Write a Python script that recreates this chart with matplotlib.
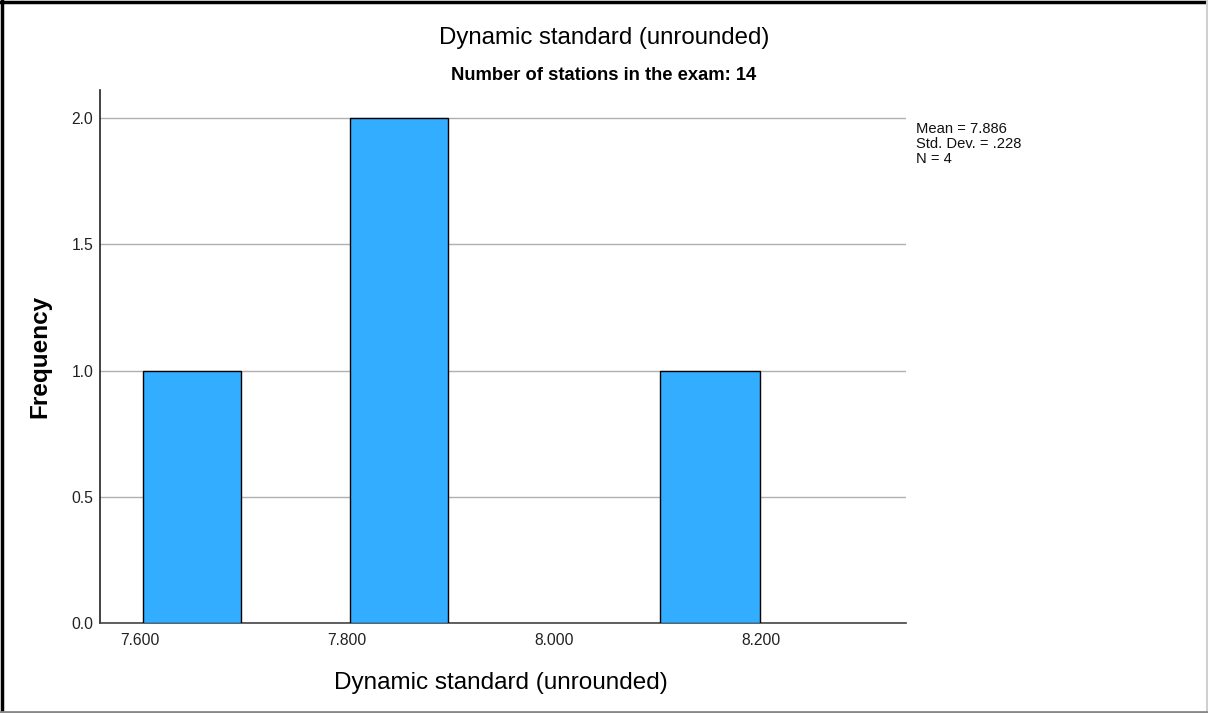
import matplotlib.pyplot as plt
from matplotlib.lines import Line2D

# histogram bins (left edge, right edge, count)
bin_left = [7.603, 7.803, 8.102]
bin_right = [7.698, 7.898, 8.199]
counts = [1, 2, 1]

x_ticks = [7.6, 7.8, 8.0, 8.2]
x_tick_labels = ["7.600", "7.800", "8.000", "8.200"]
y_ticks = [0.0, 0.5, 1.0, 1.5, 2.0]

stats_lines = ["Mean = 7.886", "Std. Dev. = .228", "N = 4"]

title = "Dynamic standard (unrounded)"
subtitle = "Number of stations in the exam: 14"
x_label = "Dynamic standard (unrounded)"
y_label = "Frequency"

plt.rcParams['font.family'] = ['Liberation Sans', 'DejaVu Sans']

fig = plt.figure(figsize=(12.08, 7.13), dpi=100)
ax = fig.add_axes([0.0824, 0.1262, 0.6676, 0.7476])

widths = [r - l for l, r in zip(bin_left, bin_right)]
ax.bar(bin_left, counts, width=widths, align='edge', color='#32adff',
       edgecolor='black', linewidth=1.0, zorder=3)

ax.set_xlim(7.561, 8.340)
ax.set_ylim(0, 2.111)
ax.set_xticks(x_ticks)
ax.set_xticklabels(x_tick_labels)
ax.set_yticks(y_ticks)
ax.set_yticklabels(["%.1f" % v for v in y_ticks])
ax.tick_params(length=0, labelsize=11.3, labelcolor='#222222')
ax.tick_params(axis='x', pad=7)
ax.tick_params(axis='y', pad=4.5)

ax.yaxis.grid(True, color='#b0b0b0', linewidth=1.0, zorder=0)
ax.set_axisbelow(True)
for side in ['top', 'right']:
    ax.spines[side].set_visible(False)
ax.spines['left'].set_color('#222222')
ax.spines['bottom'].set_color('#444444')
ax.spines['left'].set_linewidth(1.2)
ax.spines['bottom'].set_linewidth(1.2)

fig.text(0.5, 1 - 38 / 713, title, ha='center', va='center', fontsize=17.3)
fig.text(0.5, 1 - 75 / 713, subtitle, ha='center', va='center', fontsize=13.2,
         fontweight='bold')
fig.text(501 / 1208, 1 - 683 / 713, x_label, ha='center', va='center',
         fontsize=17.5)
fig.text(40 / 1208, 1 - 356 / 713, y_label, ha='center', va='center',
         fontsize=17.5, fontweight='bold', rotation=90)

for i, line in enumerate(stats_lines):
    fig.text(916 / 1208, 1 - (129 + 15 * i) / 713, line, ha='left',
             va='center', fontsize=10.6, color='#111111')

# outer frame
fig.add_artist(Line2D([0.002, 0.002], [0, 0.998], color='black', lw=2.5,
                      transform=fig.transFigure))
fig.add_artist(Line2D([0, 1], [0.997, 0.997], color='black', lw=2.5,
                      transform=fig.transFigure))
fig.add_artist(Line2D([0.9992, 0.9992], [0, 1], color='#d0d0d0', lw=1.5,
                      transform=fig.transFigure))
fig.add_artist(Line2D([0, 1], [0.002, 0.002], color='#888888', lw=2,
                      transform=fig.transFigure))

fig.savefig("out.png", dpi=100)
